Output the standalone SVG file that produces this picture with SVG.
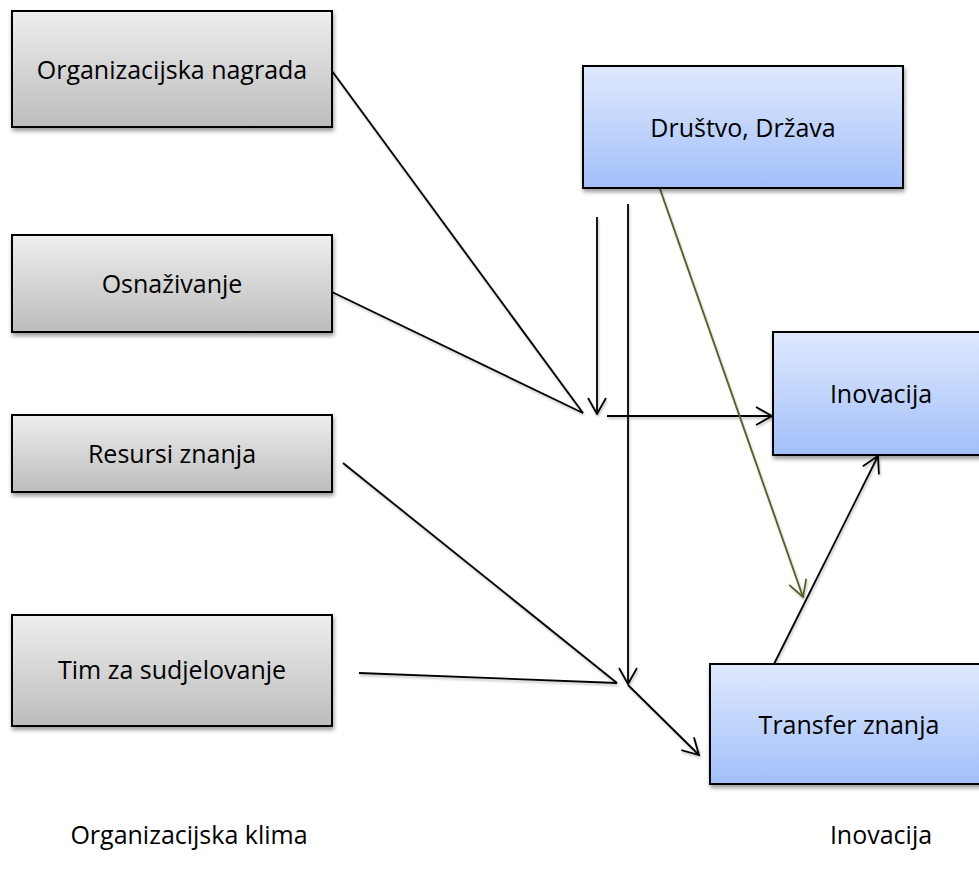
<svg xmlns="http://www.w3.org/2000/svg" width="979" height="876" viewBox="0 0 979 876">
  <style>
    .box-gray { fill: url(#gradGray); stroke: #000; stroke-width: 2; filter: url(#shadow); }
    .box-blue { fill: url(#gradBlue); stroke: #000; stroke-width: 2; filter: url(#shadow); }
    .label { font-family: "Open Sans", "Liberation Sans", sans-serif; font-size: 25px; fill: #000; text-anchor: middle; }
    .link { fill: none; stroke: #000; stroke-width: 1.8; }
    .link-green { fill: none; stroke: #4F6228; stroke-width: 1.8; }
  </style>
  <defs>
    <linearGradient id="gradGray" x1="0" y1="0" x2="0" y2="1">
      <stop offset="0" stop-color="#eeeeee"/>
      <stop offset="1" stop-color="#bcbcbc"/>
    </linearGradient>
    <linearGradient id="gradBlue" x1="0" y1="0" x2="0" y2="1">
      <stop offset="0" stop-color="#dfe9fd"/>
      <stop offset="1" stop-color="#a2bffa"/>
    </linearGradient>
    <filter id="shadow" x="-10%" y="-10%" width="125%" height="130%">
      <feGaussianBlur in="SourceAlpha" stdDeviation="2"/>
      <feOffset dx="1" dy="3" result="b"/>
      <feComponentTransfer><feFuncA type="linear" slope="0.4"/></feComponentTransfer>
      <feMerge><feMergeNode/><feMergeNode in="SourceGraphic"/></feMerge>
    </filter>
    <!-- user-space region so straight vertical/horizontal lines keep their shadow -->
    <filter id="lineShadow" filterUnits="userSpaceOnUse" x="0" y="0" width="979" height="876">
      <feGaussianBlur in="SourceAlpha" stdDeviation="1"/>
      <feOffset dx="1" dy="2" result="b"/>
      <feComponentTransfer><feFuncA type="linear" slope="0.25"/></feComponentTransfer>
      <feMerge><feMergeNode/><feMergeNode in="SourceGraphic"/></feMerge>
    </filter>
    <marker id="arrow" viewBox="0 0 18 20" refX="17" refY="10" markerWidth="18" markerHeight="20" markerUnits="userSpaceOnUse" orient="auto">
      <path d="M1,1 L17,10 L1,19" fill="none" stroke="#000" stroke-width="1.8"/>
    </marker>
    <marker id="arrowGreen" viewBox="0 0 18 20" refX="17" refY="10" markerWidth="18" markerHeight="20" markerUnits="userSpaceOnUse" orient="auto">
      <path d="M1,1 L17,10 L1,19" fill="none" stroke="#4F6228" stroke-width="1.8"/>
    </marker>
  </defs>

  <rect width="979" height="876" fill="#fff"/>

  <!-- connectors -->
  <g id="connectors" filter="url(#lineShadow)">
    <line class="link" x1="332" y1="71" x2="583" y2="413"/>
    <line class="link" x1="332" y1="292" x2="583" y2="413"/>
    <line class="link" x1="597" y1="217" x2="597" y2="414" marker-end="url(#arrow)"/>
    <line class="link" x1="607" y1="416" x2="772" y2="416" marker-end="url(#arrow)"/>
    <line class="link" x1="628" y1="204" x2="628" y2="684" marker-end="url(#arrow)"/>
    <line class="link" x1="343" y1="463" x2="617" y2="683"/>
    <line class="link" x1="359" y1="673" x2="617" y2="683"/>
    <line class="link" x1="628" y1="685" x2="699" y2="755" marker-end="url(#arrow)"/>
    <line class="link" x1="774" y1="664" x2="878" y2="456" marker-end="url(#arrow)"/>
    <line class="link-green" x1="660" y1="189" x2="803" y2="597" marker-end="url(#arrowGreen)"/>
  </g>

  <!-- organizational climate factors -->
  <g id="node-nagrada">
    <rect class="box-gray" x="12" y="11" width="320" height="116"/>
    <text class="label" x="172" y="79">Organizacijska nagrada</text>
  </g>
  <g id="node-osnazivanje">
    <rect class="box-gray" x="12" y="235" width="320" height="97"/>
    <text class="label" x="172" y="293">Osnaživanje</text>
  </g>
  <g id="node-resursi">
    <rect class="box-gray" x="12" y="415" width="320" height="77"/>
    <text class="label" x="172" y="463">Resursi znanja</text>
  </g>
  <g id="node-tim">
    <rect class="box-gray" x="12" y="615" width="320" height="111"/>
    <text class="label" x="172" y="679">Tim za sudjelovanje</text>
  </g>

  <!-- innovation side -->
  <g id="node-drustvo">
    <rect class="box-blue" x="583" y="66" width="320" height="122"/>
    <text class="label" x="743" y="137">Društvo, Država</text>
  </g>
  <g id="node-inovacija">
    <rect class="box-blue" x="773" y="332" width="216" height="123"/>
    <text class="label" x="881" y="403">Inovacija</text>
  </g>
  <g id="node-transfer">
    <rect class="box-blue" x="710" y="664" width="278" height="120"/>
    <text class="label" x="849" y="734">Transfer znanja</text>
  </g>

  <!-- column captions -->
  <g id="captions">
    <text class="label" x="189" y="844">Organizacijska klima</text>
    <text class="label" x="881" y="844">Inovacija</text>
  </g>
</svg>
